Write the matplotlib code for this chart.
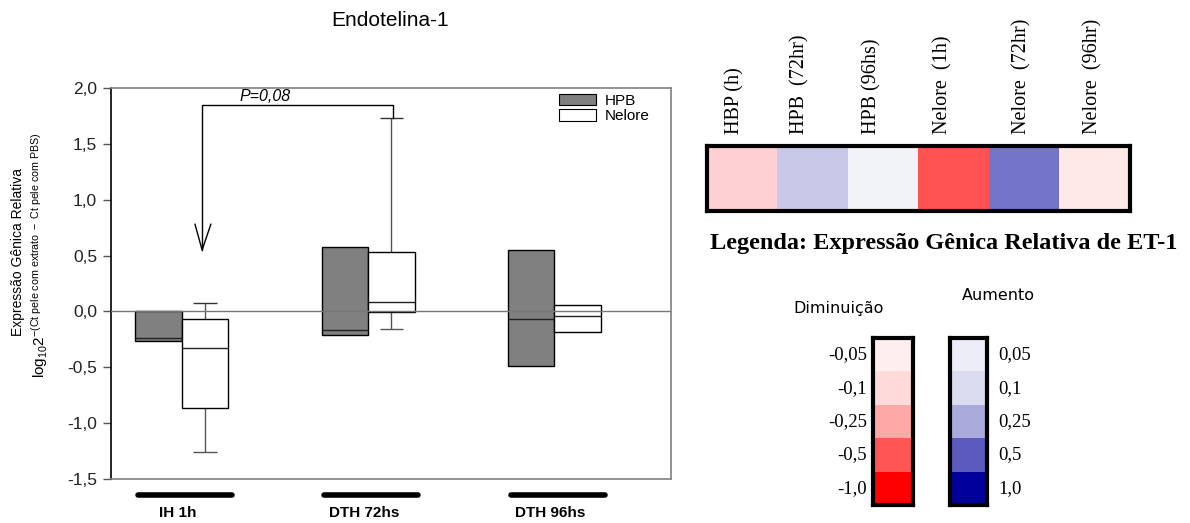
import numpy as np
import matplotlib
matplotlib.use('Agg')
from matplotlib import pyplot as plt
from matplotlib.patches import Patch
from matplotlib.colors import ListedColormap

plt.rcParams['font.family'] = ['Liberation Sans', 'DejaVu Sans']
plt.rcParams['mathtext.fontset'] = 'custom'
plt.rcParams['mathtext.rm'] = 'Liberation Sans'
plt.rcParams['mathtext.it'] = 'Liberation Sans:italic'

# box plot data
groups = ['IH 1h', 'DTH 72hs', 'DTH 96hs']
series = ['HPB', 'Nelore']
q1 = {'HPB': [-0.265, -0.212, -0.487], 'Nelore': [-0.867, -0.005, -0.188]}
med = {'HPB': [-0.235, -0.167, -0.068], 'Nelore': [-0.328, 0.084, -0.039]}
q3 = {'HPB': [0.0, 0.578, 0.554], 'Nelore': [-0.065, 0.533, 0.057]}
whis_lo = {'HPB': [np.nan, np.nan, np.nan], 'Nelore': [-1.262, -0.158, np.nan]}
whis_hi = {'HPB': [np.nan, np.nan, np.nan], 'Nelore': [0.074, 1.73, np.nan]}
p_text = 'P=0,08'

# heatmap data
heat_labels = ['HBP (h)', 'HPB  (72hr)', 'HPB (96hs)', 'Nelore  (1h)', 'Nelore  (72hr)', 'Nelore  (96hr)']
heat_colors = ['#ffd0d3', '#c8c9e8', '#f2f3f9', '#ff5252', '#7474c8', '#ffe8e8']

dec_labels = ['-0,05', '-0,1', '-0,25', '-0,5', '-1,0']
dec_colors = ['#ffeeee', '#ffdada', '#ffa8a8', '#ff5555', '#ff0000']
inc_labels = ['0,05', '0,1', '0,25', '0,5', '1,0']
inc_colors = ['#ededf8', '#dcdcf0', '#aaaadc', '#5b5bbf', '#00009a']

W, H = 1190, 523
fig = plt.figure(figsize=(W / 100, H / 100), dpi=100)


def px_axes(x0, y0, x1, y1):
    return fig.add_axes([x0 / W, 1 - y1 / H, (x1 - x0) / W, (y1 - y0) / H])


# ---------------- box plot ----------------
ax = px_axes(111, 88, 671, 479)
bw = 0.25
xpos = np.arange(1, len(groups) + 1)
face = {'HPB': '#808080', 'Nelore': 'white'}
offs = {'HPB': -bw / 2, 'Nelore': bw / 2}
for s in series:
    xs = xpos + offs[s]
    lo = np.array(q1[s])
    hi = np.array(q3[s])
    ax.bar(xs, hi - lo, bottom=lo, width=bw, color=face[s], edgecolor='black', linewidth=1.0, zorder=3)
    ax.hlines(med[s], xs - bw / 2, xs + bw / 2, color='#222222', linewidth=1.0, zorder=4)
    for x, l, h, wl, wh in zip(xs, lo, hi, whis_lo[s], whis_hi[s]):
        if not np.isnan(wl):
            ax.vlines(x, wl, l, color='#555555', linewidth=1.0, zorder=2)
            ax.hlines(wl, x - bw / 4, x + bw / 4, color='#555555', linewidth=1.0, zorder=2)
        if not np.isnan(wh):
            ax.vlines(x, h, wh, color='#555555', linewidth=1.0, zorder=2)
            ax.hlines(wh, x - bw / 4, x + bw / 4, color='#333333', linewidth=1.0, zorder=2)

ax.axhline(0, color='#777777', linewidth=1.0, zorder=5)
ax.set_xlim(0.62, 3.626)
ax.set_ylim(-1.5, 2.0)
yt = np.arange(-1.5, 2.01, 0.5)
ax.set_yticks(yt)
ax.set_yticklabels(['{:.1f}'.format(v).replace('.', ',') for v in yt], fontsize=12.5, color='#222222')
ax.set_xticks([])
ax.tick_params(axis='y', direction='out', length=6, width=1, color='#555555', pad=4)
ax.spines['left'].set_color('black')
for sp in ['top', 'right', 'bottom']:
    ax.spines[sp].set_color('#808080')
for sp in ax.spines.values():
    sp.set_linewidth(1.2)

# significance bracket
xl, xr, ytop = 1.109, 2.133, 1.845
ax.plot([xl, xl, xr, xr], [0.55, ytop, ytop, whis_hi['Nelore'][1]], color='black', linewidth=1.0, zorder=6)
ax.plot([xl - 0.038, xl, xl + 0.047], [0.78, 0.55, 0.78], color='black', linewidth=1.0, zorder=6)
ax.text(1.448, 1.925, p_text, fontsize=11.5, style='italic', ha='center', va='center')

ax.legend(handles=[Patch(facecolor=face[s], edgecolor='black', linewidth=0.8, label=s) for s in series],
          loc='upper left', bbox_to_anchor=(0.8, 0.985), frameon=False, fontsize=11,
          handlelength=2.4, handleheight=0.75, handletextpad=0.6, labelspacing=0.1, borderpad=0, borderaxespad=0)

fig.text(390 / W, 1 - 20 / H, 'Endotelina-1', fontsize=15, ha='center', va='center')
fig.text(18 / W, 1 - 252 / H, 'Expressão Gênica Relativa', fontsize=10, rotation=90, ha='center', va='center')
fig.text(40 / W, 1 - 255 / H,
         r'log$_{10}$2$^{-(\mathrm{Ct\ pele\ com\ extrato\ -\ Ct\ pele\ com\ PBS})}$',
         fontsize=11, rotation=90, ha='center', va='center')

# group bars and labels below the axis
for x, g in zip(xpos, groups):
    ax.plot([x - 0.235, x + 0.27], [-1.645, -1.645], color='black', linewidth=4, solid_capstyle='round', clip_on=False)
    ax.text(x - 0.02, -1.8, g, fontsize=11, fontweight='bold', ha='center', va='center', clip_on=False)

# ---------------- heatmap ----------------
hx = px_axes(707, 146, 1130, 211)
hx.imshow(np.arange(len(heat_colors))[None, :], cmap=ListedColormap(heat_colors), aspect='auto',
          interpolation='nearest', extent=(0, len(heat_colors), 0, 1))
hx.set_xticks([])
hx.set_yticks([])
for sp in hx.spines.values():
    sp.set_linewidth(3)
    sp.set_color('black')
label_x = [735, 800, 872, 943, 1022, 1093]
for lx, lab in zip(label_x, heat_labels):
    fig.text(lx / W, 1 - 134 / H, lab, fontsize=14.5, family='Liberation Serif', rotation=90,
             ha='center', va='bottom')

fig.text(944 / W, 1 - 243 / H, 'Legenda: Expressão Gênica Relativa de ET-1', fontsize=17.5,
         family='Liberation Serif', fontweight='bold', ha='center', va='center')

# ---------------- colour legends ----------------
for (x0, x1), cols, labs, side in [((873, 913), dec_colors, dec_labels, 'left'),
                                   ((950, 987), inc_colors, inc_labels, 'right')]:
    cx = px_axes(x0, 338, x1, 505)
    cx.imshow(np.arange(len(cols))[:, None], cmap=ListedColormap(cols), aspect='auto',
              interpolation='nearest', extent=(0, 1, len(cols), 0))
    cx.set_xticks([])
    cx.set_yticks([])
    for sp in cx.spines.values():
        sp.set_linewidth(3)
        sp.set_color('black')
    for i, lab in enumerate(labs):
        if side == 'left':
            cx.text(-0.15, i + 0.5, lab, fontsize=13.5, family='Liberation Serif',
                    ha='right', va='center', clip_on=False)
        else:
            cx.text(1.3, i + 0.5, lab, fontsize=13.5, family='Liberation Serif',
                    ha='left', va='center', clip_on=False)

fig.text(839 / W, 1 - 308 / H, 'Diminuição', fontsize=11.5, family='DejaVu Sans', ha='center', va='center')
fig.text(998 / W, 1 - 295 / H, 'Aumento', fontsize=11.5, family='DejaVu Sans', ha='center', va='center')

fig.savefig('out.png', dpi=100)
